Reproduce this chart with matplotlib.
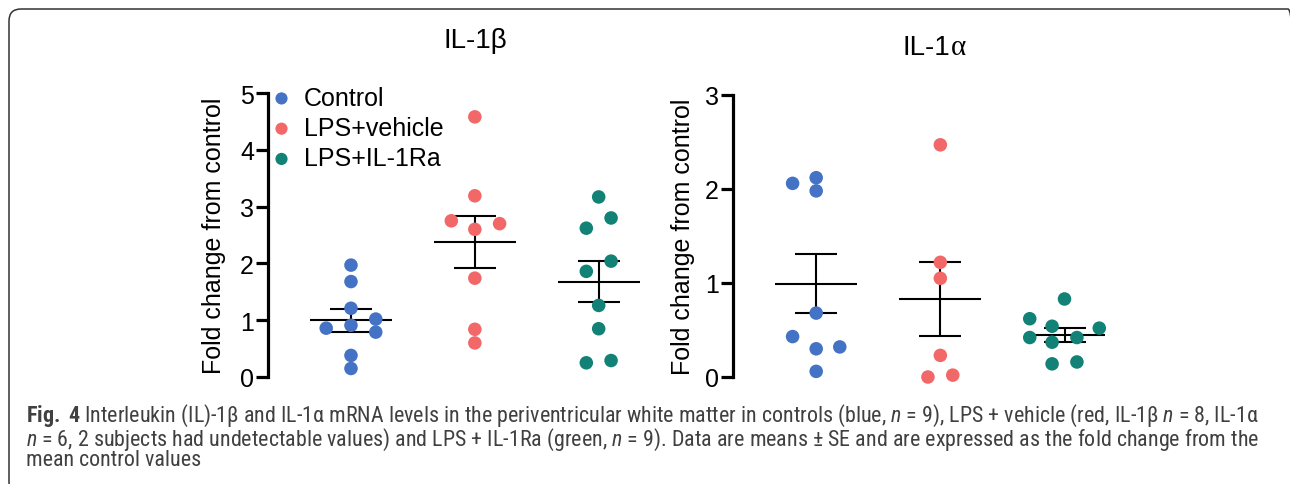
import numpy as np
import matplotlib
matplotlib.use("Agg")
import matplotlib.pyplot as plt
from matplotlib import font_manager
from matplotlib.patches import FancyBboxPatch
from matplotlib.transforms import IdentityTransform

# ---- data ----
groups = ["Control", "LPS+vehicle", "LPS+IL-1Ra"]
colors = ["#4472c4", "#f26868", "#128277"]

# IL-1beta
il1b_vals = [
    [1.97, 1.68, 1.21, 1.02, 0.91, 0.86, 0.79, 0.38, 0.15],
    [4.58, 3.19, 2.75, 2.70, 2.60, 1.74, 0.84, 0.60],
    [3.17, 2.80, 2.62, 2.04, 1.86, 1.26, 0.85, 0.29, 0.25],
]
il1b_jitter = [
    [0, 0, 0, 0.2, 0, -0.2, 0.2, 0, 0],
    [0, 0, -0.19, 0.2, 0, 0, 0, 0],
    [0, 0.1, -0.1, 0.1, -0.1, 0, 0, 0.1, -0.1],
]
il1b_mean = [1.00, 2.38, 1.68]
il1b_lo = [0.80, 1.92, 1.32]
il1b_hi = [1.19, 2.84, 2.04]

# IL-1alpha
il1a_vals = [
    [2.12, 2.06, 1.98, 0.68, 0.43, 0.32, 0.30, 0.06],
    [2.47, 1.22, 1.05, 0.23, 0.00, 0.02],
    [0.83, 0.62, 0.54, 0.52, 0.42, 0.42, 0.37, 0.16, 0.14],
]
il1a_jitter = [
    [0, -0.19, 0, 0, -0.19, 0.19, 0, 0],
    [0, 0, 0, 0, -0.1, 0.1],
    [0, -0.28, -0.1, 0.28, -0.28, 0.1, -0.1, 0.1, -0.1],
]
il1a_mean = [0.99, 0.83, 0.45]
il1a_lo = [0.68, 0.44, 0.37]
il1a_hi = [1.31, 1.22, 0.52]

caption_lines = [
    r"$\bf{Fig.\ 4}$ Interleukin (IL)-1β and IL-1α mRNA levels in the periventricular white matter in controls (blue, $\it{n}$ = 9), LPS + vehicle (red, IL-1β $\it{n}$ = 8, IL-1α",
    r"$\it{n}$ = 6, 2 subjects had undetectable values) and LPS + IL-1Ra (green, $\it{n}$ = 9). Data are means ± SE and are expressed as the fold change from the",
    "mean control values",
]

# caption font: a condensed face if one is installed, Lato otherwise
installed = {f.name for f in font_manager.fontManager.ttflist}
cap_font = "Lato"
for name in ["Roboto Condensed", "Open Sans Condensed", "Liberation Sans Narrow"]:
    if name in installed:
        cap_font = name
        break

plt.rcParams["font.family"] = ["Liberation Sans", "DejaVu Sans"]
plt.rcParams["mathtext.fontset"] = "custom"
plt.rcParams["mathtext.it"] = cap_font + ":italic"
plt.rcParams["mathtext.bf"] = cap_font + ":bold"
plt.rcParams["mathtext.rm"] = cap_font

W, H = 1290, 485
fig = plt.figure(figsize=(W / 100, H / 100), dpi=100)


def scatter_panel(ax, vals, jitter, mean, lo, hi, ymax, labelpad):
    x = np.arange(len(vals))
    for i, (v, j) in enumerate(zip(vals, jitter)):
        ax.scatter(i + np.array(j), v, s=95, color=colors[i], edgecolors="none",
                   zorder=3, clip_on=False, label=groups[i])
    mean = np.array(mean)
    ax.hlines(mean, x - 0.33, x + 0.33, color="black", lw=1.5, zorder=2)
    ax.errorbar(x, mean, yerr=[mean - np.array(lo), np.array(hi) - mean], fmt="none",
                ecolor="black", elinewidth=1.5, capsize=15, capthick=1.5, zorder=2)
    ax.set_xlim(-0.67, 2.6)
    ax.set_ylim(0, ymax)
    ax.set_yticks(range(ymax + 1))
    for s in ["top", "right", "bottom"]:
        ax.spines[s].set_visible(False)
    ax.spines["left"].set_linewidth(2.3)
    ax.xaxis.set_visible(False)
    ax.tick_params(axis="y", length=9, width=2.3, pad=1, labelsize=18)
    ax.set_ylabel("Fold change from control", fontsize=18, labelpad=labelpad)


ax1 = fig.add_axes([268 / W, 107 / H, 405 / W, 284 / H])
scatter_panel(ax1, il1b_vals, il1b_jitter, il1b_mean, il1b_lo, il1b_hi, 5, 10)
ax1.legend(loc="upper left", bbox_to_anchor=(274 / W, (H - 87) / H),
           bbox_transform=fig.transFigure, frameon=False, fontsize=18,
           handlelength=0.6, handletextpad=0.6, labelspacing=0.25,
           borderpad=0, borderaxespad=0, markerscale=0.9)

ax2 = fig.add_axes([733 / W, 107 / H, 406 / W, 282 / H])
scatter_panel(ax2, il1a_vals, il1a_jitter, il1a_mean, il1a_lo, il1a_hi, 3, 7)

# titles
fig.text(475 / W, (H - 41) / H, "IL-1β", fontsize=20, ha="center", va="center")
t = fig.text(903 / W, (H - 48) / H, "IL-1", fontsize=20, ha="left", va="center")
ax2.annotate("α", xy=(1, 0), xycoords=t, va="bottom", ha="left",
             fontsize=21, family="Liberation Serif")

# caption: size chosen so the first line fills the column width
renderer = fig.canvas.get_renderer()
probe = fig.text(0, 0, caption_lines[0], fontsize=12, family=cap_font)
cap_fs = 12 * 1234 / probe.get_window_extent(renderer).width
probe.remove()
fig.text(26 / W, (H - 403) / H, "\n".join(caption_lines), fontsize=cap_fs,
         family=cap_font, color="#404040", va="top", ha="left", linespacing=0.85)

# rounded frame, right and bottom edges fall just outside the picture
frame = FancyBboxPatch((9, -10), 1291, H - 10 + 10, boxstyle="round,pad=0,rounding_size=12",
                       transform=IdentityTransform(), fill=False, ec="#333333", lw=1.1)
fig.patches.append(frame)

fig.savefig("out.png", dpi=100)
